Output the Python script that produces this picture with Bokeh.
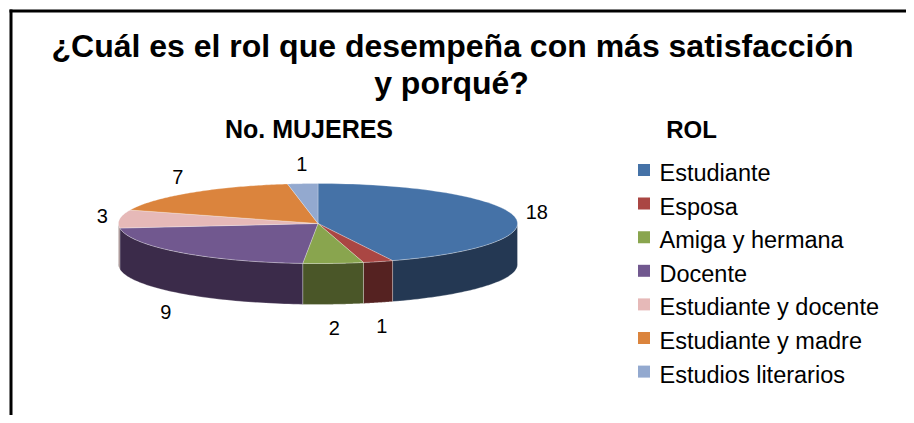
import numpy as np
from bokeh.plotting import figure
from bokeh.models import Range1d
from bokeh.core.properties import value
from bokeh.embed import file_html
from bokeh.resources import INLINE

# ---- data ----
categories = ["Estudiante", "Esposa", "Amiga y hermana", "Docente",
              "Estudiante y docente", "Estudiante y madre", "Estudios literarios"]
counts = [18, 1, 2, 9, 3, 7, 1]
top_colors = ["#4572A7", "#AA4643", "#89A54E", "#71588F", "#E6B9B8", "#DB843D", "#93A9CF"]
side_colors = ["#243853", "#552221", "#4A5628", "#3B2B4A", "#8A6F6E", "#8A5325", "#5A6A85"]
title_lines = ["¿Cuál es el rol que desempeña con más satisfacción", "y porqué?"]
subtitle = "No. MUJERES"
legend_title = "ROL"

FONT = value("Liberation Sans")

# ---- geometry (image pixel coordinates) ----
cx, cy, a, b, depth = 317.5, 223.0, 199.5, 40.0, 41.0

p = figure(width=906, height=415, x_range=Range1d(0, 906), y_range=Range1d(415, 0),
           output_backend="svg", toolbar_location=None, min_border=0,
           outline_line_color=None, background_fill_color="white")
p.axis.visible = False
p.grid.visible = False

total = float(sum(counts))
cum = np.concatenate([[0.0], np.cumsum(counts)])
starts = 90.0 - 360.0 * cum[:-1] / total
ends = 90.0 - 360.0 * cum[1:] / total

# sides (front half only: angles between -180 and 0)
sx, sy, sc = [], [], []
for i in range(len(counts)):
    hi = min(starts[i], 0.0)
    lo = max(ends[i], -180.0)
    if hi > lo:
        t = np.radians(np.linspace(hi, lo, 60))
        xs = cx + a * np.cos(t)
        ys = cy - b * np.sin(t)
        sx.append(list(xs) + list(xs[::-1]))
        sy.append(list(ys) + list((ys + depth)[::-1]))
        sc.append(side_colors[i])
p.patches(sx, sy, fill_color=sc, line_color="white", line_alpha=0.35, line_width=0.8)

# top faces
tx, ty = [], []
for i in range(len(counts)):
    t = np.radians(np.linspace(starts[i], ends[i], 80))
    tx.append([cx] + list(cx + a * np.cos(t)))
    ty.append([cy] + list(cy - b * np.sin(t)))
p.patches(tx, ty, fill_color=top_colors, line_color="white", line_alpha=0.35, line_width=0.8)

# data labels (outside end, below the side wall for front slices)
lx, ly, la, lt = [], [], [], []
for i in range(len(counts)):
    m = np.radians((starts[i] + ends[i]) / 2.0)
    c, s = np.cos(m), np.sin(m)
    x = cx + (a + 12) * c
    y = cy - (b + 19.5) * s + (depth + 5 if s < 0 else 0) - 0.6
    lx.append(x)
    ly.append(y)
    la.append("left" if c > 0.4 else ("right" if c < -0.4 else "center"))
    lt.append(str(counts[i]))
p.text(lx, ly, text=lt, text_align=la, text_baseline="middle",
       text_font=FONT, text_font_size="20px", text_color="black")

# titles
p.text([452, 451], [45.4, 82.4], text=title_lines, text_align="center", text_baseline="middle",
       text_font=FONT, text_font_size="32px", text_font_style="bold", text_color="black")
p.text([308.5], [128.3], text=[subtitle], text_align="center", text_baseline="middle",
       text_font=FONT, text_font_size="25px", text_font_style="bold", text_color="black")
p.text([691], [128.7], text=[legend_title], text_align="center", text_baseline="middle",
       text_font=FONT, text_font_size="24px", text_font_style="bold", text_color="black")

# legend
rows = np.arange(len(categories))
p.rect(x=[643.5] * len(categories), y=list(169.5 + 33.6 * rows), width=12, height=12,
       fill_color=top_colors, line_color=None)
p.text(x=[659] * len(categories), y=list(172.4 + 33.6 * rows), text=categories,
       text_align="left", text_baseline="middle",
       text_font=FONT, text_font_size="23.5px", text_color="black")

# frame lines (top and left)
p.line([9, 906], [10.5, 10.5], line_color="black", line_width=3)
p.line([10.5, 10.5], [9, 415], line_color="black", line_width=3)

open("out.html", "w").write(file_html(p, INLINE))
